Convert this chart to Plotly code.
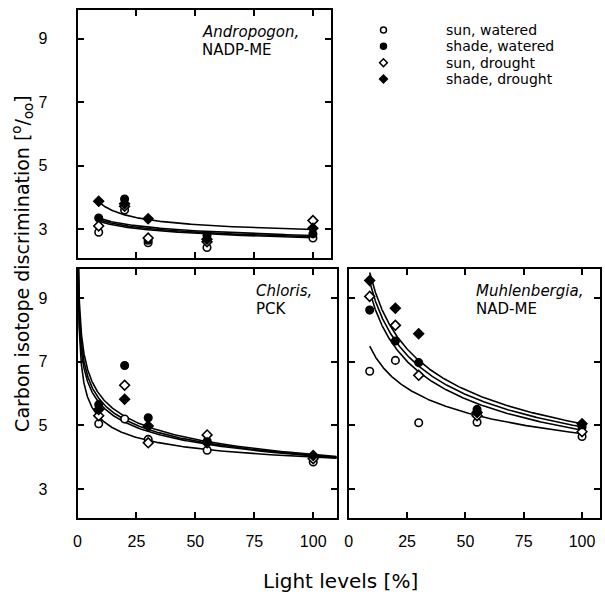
import numpy as np
import plotly.graph_objects as go

# ---------------- data ----------------
light = [9, 20, 30, 55, 100]
series_names = ["sun, watered", "shade, watered", "sun, drought", "shade, drought"]

# Andropogon (NADP-ME)
andro_sun_w = [2.90, 3.60, 2.57, 2.42, 2.72]
andro_shade_w = [3.35, 3.95, 2.65, 2.80, 2.85]
andro_sun_d = [3.10, 3.72, 2.72, 2.60, 3.27]
andro_shade_d = [3.88, 3.80, 3.33, 2.68, 3.03]

# Chloris (PCK)
chl_sun_w = [5.05, 5.20, 4.56, 4.22, 3.85]
chl_shade_w = [5.65, 6.88, 5.24, 4.50, 4.00]
chl_sun_d = [5.30, 6.26, 4.45, 4.70, 3.95]
chl_shade_d = [5.50, 5.82, 4.98, 4.45, 4.05]

# Muhlenbergia (NAD-ME)
muh_sun_w = [6.70, 7.04, 5.08, 5.10, 4.65]
muh_shade_w = [8.62, 7.65, 6.97, 5.50, 4.95]
muh_sun_d = [9.05, 8.14, 6.57, 5.30, 4.80]
muh_shade_d = [9.55, 8.68, 7.88, 5.40, 5.05]

# fitted curves y = a + b * x**c  (order: sun_w, shade_w, sun_d, shade_d)
andro_fit_a = [0.0, 0.0, 0.0, 2.617]
andro_fit_b = [3.811, 3.946, 3.885, 3.729]
andro_fit_c = [-0.0724, -0.0745, -0.0742, -0.5]
andro_fit_x = [9, 100]

chl_fit_a = [2.809, 0.0, 0.0, 0.0]
chl_fit_b = [4.758, 8.53, 8.17, 7.87]
chl_fit_c = [-0.30, -0.160, -0.152, -0.1449]
chl_fit_x = [0.2, 110]

muh_fit_a = [0.0, 0.0, 0.0, 0.0]
muh_fit_b = [11.36, 16.50, 17.22, 17.95]
muh_fit_c = [-0.1899, -0.2659, -0.2707, -0.2753]
muh_fit_x = [9, 100]

y_ticks = [3, 5, 7, 9]
x_ticks = [0, 25, 50, 75, 100]

# ---------------- figure ----------------
symbols = ["circle", "circle", "diamond", "diamond"]
fills = ["white", "black", "white", "black"]

panels = [
    ("x", "y", [andro_sun_w, andro_shade_w, andro_sun_d, andro_shade_d],
     andro_fit_a, andro_fit_b, andro_fit_c, andro_fit_x),
    ("x2", "y2", [chl_sun_w, chl_shade_w, chl_sun_d, chl_shade_d],
     chl_fit_a, chl_fit_b, chl_fit_c, chl_fit_x),
    ("x3", "y3", [muh_sun_w, muh_shade_w, muh_sun_d, muh_shade_d],
     muh_fit_a, muh_fit_b, muh_fit_c, muh_fit_x),
]

fig = go.Figure()
for pi, (xa, ya, series, fa, fb, fc, fx) in enumerate(panels):
    xs = np.geomspace(fx[0], fx[1], 300)
    for a, b, c in zip(fa, fb, fc):
        fig.add_trace(go.Scatter(x=xs, y=a + b * xs ** c, mode="lines",
                                 line=dict(color="black", width=1.6),
                                 xaxis=xa, yaxis=ya, showlegend=False,
                                 hoverinfo="skip"))
    for si, vals in enumerate(series):
        fig.add_trace(go.Scatter(
            x=light, y=vals, mode="markers", name=series_names[si],
            marker=dict(symbol=symbols[si], size=7.5, color=fills[si],
                        line=dict(color="black", width=1.6)),
            xaxis=xa, yaxis=ya, showlegend=False))

# legend drawn as a small key panel (markers column + labels)
fig.add_trace(go.Scatter(
    x=[0] * len(series_names), y=list(range(len(series_names))), mode="markers",
    marker=dict(symbol=symbols, size=6, color=fills, line=dict(color="black", width=1.5)),
    xaxis="x4", yaxis="y4", showlegend=False, cliponaxis=False, hoverinfo="skip"))

W, H = 605, 598
def px_x(a, b):
    return [a / W, b / W]
def px_y(top, bottom):
    return [1 - bottom / H, 1 - top / H]

axis_common = dict(showline=True, linewidth=2, linecolor="black", mirror="ticks",
                   ticks="inside", ticklen=6, tickwidth=1.5, tickcolor="black",
                   showgrid=False, zeroline=False,
                   tickfont=dict(family="Liberation Sans, Arial", size=16, color="black"))

fig.update_layout(
    width=W, height=H, margin=dict(l=0, r=0, t=0, b=0),
    plot_bgcolor="white", paper_bgcolor="white", showlegend=False,
    xaxis=dict(domain=px_x(74, 329), range=[0, 107.6], tickvals=x_ticks,
               showticklabels=False, anchor="y", **axis_common),
    yaxis=dict(domain=px_y(10, 258), range=[2.09, 9.91], tickvals=y_ticks,
               anchor="x", ticklabelstandoff=25, **axis_common),
    xaxis2=dict(domain=px_x(74, 335), range=[0, 110], tickvals=x_ticks,
                anchor="y2", ticklabelstandoff=8, **axis_common),
    yaxis2=dict(domain=px_y(269, 518), range=[2.09, 9.91], tickvals=y_ticks,
                anchor="x2", ticklabelstandoff=25, **axis_common),
    xaxis3=dict(domain=px_x(347, 600), range=[0, 107.7], tickvals=x_ticks,
                anchor="y3", ticklabelstandoff=8, **axis_common),
    yaxis3=dict(domain=px_y(269, 518), range=[2.09, 9.91], tickvals=y_ticks,
                showticklabels=False, anchor="x3", **axis_common),
    xaxis4=dict(domain=px_x(382, 443), range=[0, 1], visible=False, anchor="y4"),
    yaxis4=dict(domain=px_y(30, 79), range=[len(series_names) - 1, 0],
                visible=False, anchor="x4"),
)

leg_font = dict(family="DejaVu Sans", size=14, color="black")
for i, name in enumerate(series_names):
    fig.add_annotation(text=name, xref="x4", yref="y4", x=1, y=i,
                       xanchor="left", yanchor="middle", showarrow=False, font=leg_font)

lab_font = dict(family="DejaVu Sans", size=15, color="black")
labels = [
    ("x domain", "y domain", (197 - 74) / 255, "<i>Andropogon,</i>", "NADP-ME", 0.911, 0.839),
    ("x2 domain", "y2 domain", (252 - 74) / 261, "<i>Chloris,</i>", "PCK", 0.912, 0.84),
    ("x3 domain", "y3 domain", (473 - 347) / 253, "<i>Muhlenbergia,</i>", "NAD-ME", 0.912, 0.84),
]
for xr, yr, xl, l1, l2, y1, y2 in labels:
    fig.add_annotation(text=l1, xref=xr, yref=yr, x=xl, y=y1, xanchor="left",
                       yanchor="middle", showarrow=False, font=lab_font)
    fig.add_annotation(text=l2, xref=xr, yref=yr, x=xl, y=y2, xanchor="left",
                       yanchor="middle", showarrow=False, font=lab_font)

fig.add_annotation(text="Carbon isotope discrimination [<sup>o</sup>/<sub>oo</sub>]",
                   xref="paper", yref="paper", x=18 / W, y=1 - 263 / H, textangle=-90,
                   xanchor="center", yanchor="middle", showarrow=False,
                   font=dict(family="DejaVu Sans", size=19, color="black"))
fig.add_annotation(text="Light levels [%]", xref="paper", yref="paper",
                   x=339 / W, y=1 - 581 / H, xanchor="center", yanchor="middle",
                   showarrow=False, font=dict(family="DejaVu Sans", size=20, color="black"))

fig.write_html("out.html", config={"displayModeBar": False},
               post_script="document.body.style.margin='0';")
